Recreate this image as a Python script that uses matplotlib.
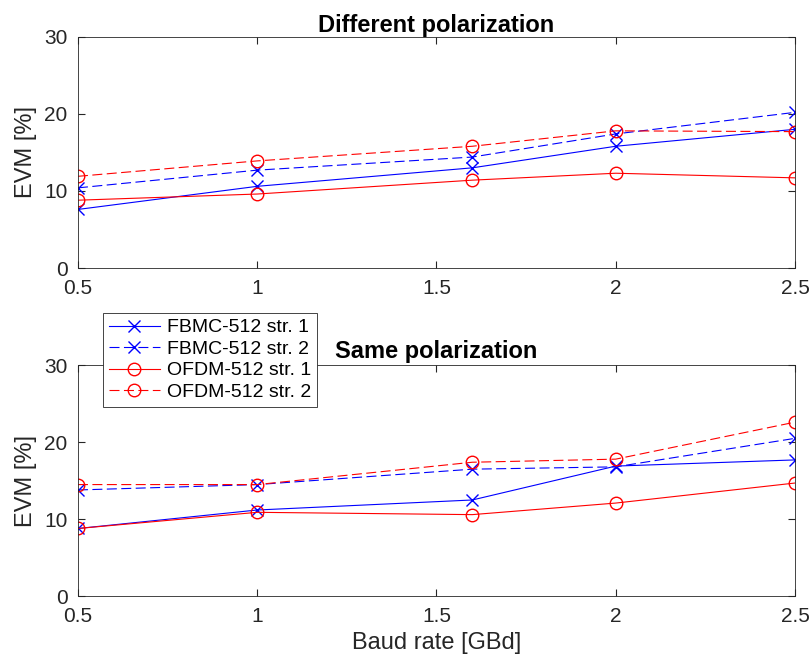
import matplotlib
matplotlib.use('Agg')
from matplotlib import pyplot as plt

plt.rcParams['font.family'] = ['Liberation Sans', 'DejaVu Sans']

baud = [0.5, 1, 1.6, 2, 2.5]

# different polarization
diff_fbmc1 = [7.6, 10.6, 13.0, 15.8, 18.0]
diff_fbmc2 = [10.4, 12.7, 14.4, 17.4, 20.2]
diff_ofdm1 = [8.8, 9.6, 11.4, 12.3, 11.7]
diff_ofdm2 = [11.9, 13.9, 15.8, 17.8, 17.7]

# same polarization
same_fbmc1 = [8.8, 11.2, 12.5, 16.9, 17.7]
same_fbmc2 = [13.8, 14.5, 16.5, 16.8, 20.5]
same_ofdm1 = [8.8, 10.9, 10.6, 12.1, 14.7]
same_ofdm2 = [14.5, 14.5, 17.4, 17.8, 22.6]

labels = ['FBMC-512 str. 1', 'FBMC-512 str. 2', 'OFDM-512 str. 1', 'OFDM-512 str. 2']
x_ticks = [0.5, 1, 1.5, 2, 2.5]
x_ticklabels = ['0.5', '1', '1.5', '2', '2.5']
y_ticks = [0, 10, 20, 30]

fig = plt.figure(figsize=(8.12, 6.70), dpi=100)
ax1 = fig.add_axes([0.096, 0.600, 0.883, 0.345])
ax2 = fig.add_axes([0.096, 0.110, 0.883, 0.345])


def draw(ax, series, title, title_pad):
    styles = [('b', '-', 'x'), ('b', '--', 'x'), ('r', '-', 'o'), ('r', '--', 'o')]
    lines = []
    for vals, (c, ls, m), lab in zip(series, styles, labels):
        ln, = ax.plot(baud, vals, color=c, linestyle=ls, marker=m, markersize=9,
                      markerfacecolor='none', markeredgewidth=1.0, linewidth=0.8,
                      label=lab)
        if ls == '--':
            ln.set_dashes((9, 4))
        lines.append(ln)
    ax.set_xlim(0.5, 2.5)
    ax.set_ylim(0, 30)
    ax.set_xticks(x_ticks)
    ax.set_xticklabels(x_ticklabels)
    ax.set_yticks(y_ticks)
    ax.tick_params(direction='in', labelsize=15, colors='#262626', length=5, top=True, right=True)
    ax.tick_params(axis='x', pad=8)
    ax.tick_params(axis='y', pad=7.5)
    for s in ax.spines.values():
        s.set_color('#262626')
        s.set_linewidth(0.6)
    ax.set_ylabel('EVM [%]', fontsize=17, color='#262626', labelpad=5)
    ax.set_title(title, fontsize=17, fontweight='bold', pad=title_pad)
    return lines


draw(ax1, [diff_fbmc1, diff_fbmc2, diff_ofdm1, diff_ofdm2], 'Different polarization', 3.5)
lines = draw(ax2, [same_fbmc1, same_fbmc2, same_ofdm1, same_ofdm2], 'Same polarization', 5)
ax2.set_xlabel('Baud rate [GBd]', fontsize=17, color='#262626', labelpad=4)

leg = fig.legend(handles=lines, loc='upper left', bbox_to_anchor=(0.127, 0.533),
                 fontsize=14, frameon=True, fancybox=False, handlelength=2.6,
                 borderpad=0.3, labelspacing=0.2, handletextpad=0.4, borderaxespad=0)
leg.get_frame().set_edgecolor('#262626')
leg.get_frame().set_linewidth(0.6)
leg.get_frame().set_alpha(1)

plt.savefig('out.png', dpi=100)
